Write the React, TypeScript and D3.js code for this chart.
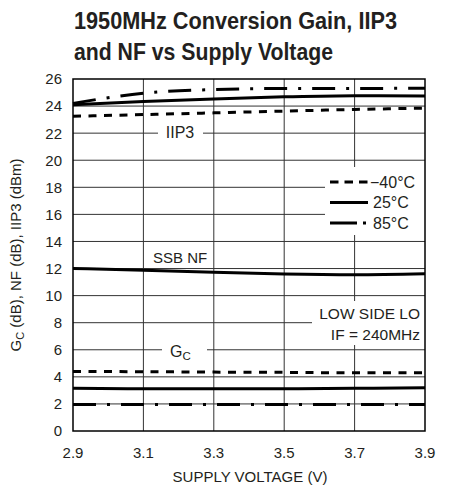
import React from "react";
import * as d3 from "d3";

const voltages = [2.9, 3.1, 3.3, 3.5, 3.7, 3.9];
const iip3Cold = [23.25, 23.37, 23.5, 23.63, 23.75, 23.85];
const iip3Room = [24.1, 24.33, 24.52, 24.68, 24.77, 24.75];
const iip3Hot = [24.2, 24.95, 25.22, 25.3, 25.3, 25.32];
const nfRoom = [12.0, 11.88, 11.72, 11.6, 11.55, 11.62];
const gainCold = [4.4, 4.38, 4.35, 4.33, 4.3, 4.3];
const gainRoom = [3.15, 3.12, 3.12, 3.12, 3.15, 3.2];
const gainHot = [1.95, 1.95, 1.95, 1.95, 1.95, 1.95];

const xTicks = [2.9, 3.1, 3.3, 3.5, 3.7, 3.9];
const yTicks = [0, 2, 4, 6, 8, 10, 12, 14, 16, 18, 20, 22, 24, 26];

const legendItems = [
  { label: "\u221240\u00B0C", dash: "8.5,6" },
  { label: "25\u00B0C", dash: "" },
  { label: "85\u00B0C", dash: "27,6,3,10" },
];

const FONT = "'Liberation Sans', Arial, 'Noto Sans', sans-serif";
const DASH = "8,7.5";
const DASHDOT = "23,11,3,11";
const INK = "#231f20";

export default function App() {
  const x = d3.scaleLinear().domain([2.9, 3.9]).range([73, 425]);
  const y = d3.scaleLinear().domain([0, 26]).range([431, 79]);
  const line = d3
    .line<number>()
    .x((_, i) => x(voltages[i]))
    .y((d) => y(d))
    .curve(d3.curveMonotoneX);

  const series = [
    { d: iip3Cold, dash: DASH },
    { d: iip3Room, dash: "" },
    { d: iip3Hot, dash: DASHDOT },
    { d: nfRoom, dash: "" },
    { d: gainCold, dash: DASH },
    { d: gainRoom, dash: "" },
    { d: gainHot, dash: DASHDOT },
  ];

  const x0 = x(2.9), x1 = x(3.9), y0 = y(0), y1 = y(26);

  return (
    <svg
      width={455}
      height={489}
      style={{ position: "absolute", left: 0, top: 0, background: "#fff" }}
      fontFamily={FONT}
    >
      <rect x={0} y={0} width={455} height={489} fill="#fff" />
      {/* title */}
      <text x={74} y={29} fontSize={23} fontWeight="bold" fill={INK} textLength={323} lengthAdjust="spacingAndGlyphs">
        1950MHz Conversion Gain, IIP3
      </text>
      <text x={74} y={60} fontSize={23} fontWeight="bold" fill={INK} textLength={259} lengthAdjust="spacingAndGlyphs">
        and NF vs Supply Voltage
      </text>

      {/* grid */}
      {yTicks.slice(1, -1).map((t) => (
        <line key={"gy" + t} x1={x0} x2={x1} y1={y(t)} y2={y(t)} stroke="#333" strokeWidth={1} />
      ))}
      {xTicks.slice(1, -1).map((t) => (
        <line key={"gx" + t} x1={x(t)} x2={x(t)} y1={y0} y2={y1} stroke="#333" strokeWidth={1} />
      ))}

      {/* white label boxes */}
      <rect x={158} y={123} width={45} height={20} fill="#fff" />
      <rect x={325} y={167} width={100} height={68} fill="#fff" />
      <rect x={312} y={301} width={113} height={44} fill="#fff" />
      <rect x={162} y={340} width={45} height={22} fill="#fff" />

      {/* data */}
      {series.map((s, i) => (
        <path
          key={i}
          d={line(s.d) || ""}
          fill="none"
          stroke="#000"
          strokeWidth={3}
          strokeDasharray={s.dash || undefined}
        />
      ))}

      {/* frame */}
      <rect x={x0} y={y1} width={x1 - x0} height={y0 - y1} fill="none" stroke="#000" strokeWidth={1.5} />

      {/* y ticks */}
      {yTicks.map((t) => (
        <text key={"ty" + t} x={62} y={y(t)} dy="0.36em" textAnchor="end" fontSize={15} fill={INK}>
          {t}
        </text>
      ))}
      {/* x ticks */}
      {xTicks.map((t) => (
        <text key={"tx" + t} x={x(t)} y={458} textAnchor="middle" fontSize={15} fill={INK}>
          {t.toFixed(1)}
        </text>
      ))}

      {/* axis titles */}
      <text x={250} y={482} textAnchor="middle" fontSize={15} fill={INK}>
        SUPPLY VOLTAGE (V)
      </text>
      <text transform="translate(21,255) rotate(-90)" textAnchor="middle" fontSize={15} fill={INK}>
        G<tspan fontSize={11} dy={3}>C</tspan>
        <tspan dy={-3}> (dB), NF (dB), IIP3 (dBm)</tspan>
      </text>

      {/* annotations */}
      <text x={180} y={138} textAnchor="middle" fontSize={16} fill={INK}>IIP3</text>
      <text x={153} y={263} fontSize={15} fill={INK}>SSB NF</text>
      <text x={420} y={319} textAnchor="end" fontSize={15.5} fill={INK}>LOW SIDE LO</text>
      <text x={420} y={340} textAnchor="end" fontSize={15.5} fill={INK}>IF = 240MHz</text>
      <text x={170} y={357} fontSize={16} fill={INK}>
        G<tspan fontSize={11.5} dy={3}>C</tspan>
      </text>

      {/* legend */}
      {legendItems.map((it, i) => {
        const ly = 182 + i * 20.5;
        return (
          <g key={it.label}>
            <line x1={330} x2={368} y1={ly} y2={ly} stroke="#000" strokeWidth={3} strokeDasharray={it.dash || undefined} />
            <text x={i === 0 ? 370 : 373} y={ly} dy="0.36em" fontSize={16} fill={INK}>
              {it.label}
            </text>
          </g>
        );
      })}
    </svg>
  );
}
